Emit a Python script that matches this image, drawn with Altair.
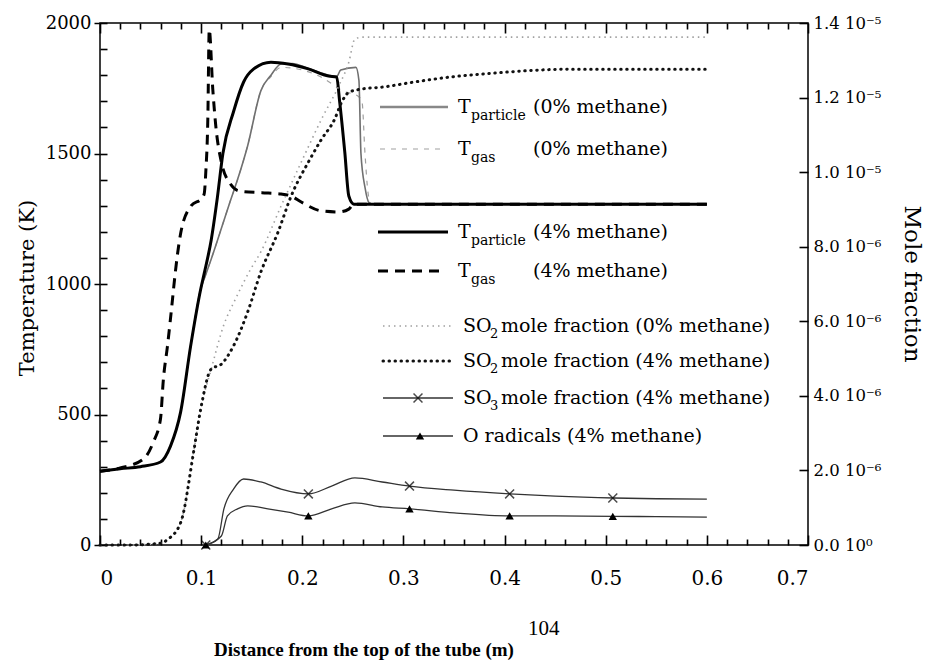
import altair as alt
import pandas as pd

# ---------------- data ----------------
# Temperatures (K), left axis
x_tp4 = [0, 0.02, 0.04, 0.0598, 0.0697, 0.0797, 0.0896, 0.0996, 0.103, 0.110, 0.116, 0.1215,
         0.132, 0.142, 0.152, 0.169, 0.186, 0.206, 0.226, 0.234, 0.237, 0.242, 0.246, 0.251, 0.4, 0.6]
t_tp4 = [283, 292, 300, 318, 379, 509, 762, 981, 1040, 1170, 1330, 1500,
         1660, 1774, 1824, 1850, 1843, 1824, 1797, 1793, 1697, 1506, 1337, 1306, 1306, 1306]

x_tg4 = [0, 0.02, 0.0428, 0.0528, 0.0598, 0.0627, 0.0667, 0.0717, 0.073, 0.08, 0.09, 0.101, 0.103,
         0.1046, 0.1066, 0.108, 0.1115, 0.1145, 0.12, 0.129, 0.138, 0.16, 0.179, 0.189, 0.199,
         0.219, 0.236, 0.246, 0.251, 0.4, 0.6]
t_tg4 = [283, 295, 329, 395, 483, 636, 762, 942, 992, 1199, 1299, 1330, 1345,
         1429, 1632, 1975, 1747, 1605, 1467, 1383, 1356, 1350, 1345, 1337, 1314,
         1280, 1276, 1287, 1306, 1306, 1306]

x_tp0 = [0, 0.02, 0.04, 0.0598, 0.0697, 0.0797, 0.0896, 0.0996, 0.104, 0.110, 0.113, 0.121, 0.129,
         0.136, 0.146, 0.159, 0.169, 0.179, 0.19, 0.206, 0.226, 0.234, 0.238, 0.253, 0.256, 0.258,
         0.262, 0.266, 0.27, 0.4, 0.6]
t_tp0 = [283, 292, 300, 318, 379, 509, 762, 981, 1030, 1096, 1130, 1225, 1320,
         1400, 1530, 1740, 1800, 1843, 1845, 1826, 1800, 1795, 1820, 1830, 1780, 1500,
         1370, 1312, 1306, 1306, 1306]

x_tg0 = [0, 0.02, 0.04, 0.0598, 0.0697, 0.0797, 0.0896, 0.0996, 0.104, 0.110, 0.113, 0.121, 0.129,
         0.136, 0.146, 0.159, 0.169, 0.179, 0.2, 0.22, 0.24, 0.255, 0.259, 0.262, 0.265, 0.268, 0.4, 0.6]
t_tg0 = [283, 292, 300, 318, 379, 509, 762, 981, 1030, 1096, 1130, 1225, 1320,
         1400, 1530, 1740, 1795, 1830, 1820, 1790, 1740, 1720, 1700, 1500, 1350, 1306, 1306, 1306]

# Mole fractions (units of 1e-6), right axis
x_so2_4 = [0, 0.03, 0.06, 0.067, 0.080, 0.093, 0.0996, 0.110, 0.120, 0.132, 0.146, 0.159, 0.176,
           0.189, 0.206, 0.219, 0.232, 0.239, 0.246, 0.259, 0.279, 0.309, 0.346, 0.378, 0.465, 0.6]
m_so2_4 = [0, 0, 0.05, 0.15, 0.62, 2.57, 3.65, 4.72, 4.85, 5.34, 6.25, 7.32, 8.39,
           9.36, 10.27, 10.88, 11.42, 11.88, 12.14, 12.23, 12.28, 12.41, 12.55, 12.63, 12.76, 12.76]

x_so2_0 = [0, 0.03, 0.06, 0.067, 0.080, 0.093, 0.0996, 0.110, 0.122, 0.134, 0.149, 0.159, 0.179,
           0.199, 0.219, 0.236, 0.246, 0.252, 0.259, 0.6]
m_so2_0 = [0, 0, 0.05, 0.15, 0.62, 2.57, 3.65, 4.72, 5.87, 6.60, 7.40, 7.86, 9.09,
           10.27, 11.42, 12.31, 12.95, 13.57, 13.62, 13.62]

x_so3 = [0.1046, 0.1165, 0.1225, 0.132, 0.142, 0.159, 0.179, 0.206, 0.229, 0.252, 0.279, 0.306,
         0.35, 0.405, 0.45, 0.508, 0.55, 0.6]
m_so3 = [0, 0.16, 0.97, 1.50, 1.77, 1.69, 1.50, 1.37, 1.58, 1.80, 1.69, 1.58,
         1.47, 1.37, 1.31, 1.26, 1.24, 1.23]

x_o = [0.1046, 0.12, 0.126, 0.136, 0.146, 0.166, 0.186, 0.206, 0.229, 0.252, 0.279, 0.306,
       0.35, 0.405, 0.45, 0.508, 0.55, 0.6]
m_o = [0, 0.24, 0.78, 0.97, 1.05, 0.97, 0.88, 0.78, 0.97, 1.13, 1.02, 0.97,
       0.86, 0.78, 0.78, 0.77, 0.76, 0.75]

x_so3_mark = [0.1046, 0.206, 0.306, 0.405, 0.507]
m_so3_mark = [0, 1.37, 1.58, 1.37, 1.26]
x_o_mark = [0.1046, 0.206, 0.306, 0.405, 0.507]
m_o_mark = [0, 0.78, 0.97, 0.78, 0.77]

# Axis tick values (labels only on the majors)
x_ticks = [0, 0.02, 0.04, 0.06, 0.08, 0.1, 0.12, 0.14, 0.16, 0.18, 0.2, 0.22, 0.24, 0.26, 0.28,
           0.3, 0.32, 0.34, 0.36, 0.38, 0.4, 0.42, 0.44, 0.46, 0.48, 0.5, 0.52, 0.54, 0.56, 0.58,
           0.6, 0.62, 0.64, 0.66, 0.68, 0.7]
t_ticks = [0, 100, 200, 300, 400, 500, 600, 700, 800, 900, 1000, 1100, 1200, 1300, 1400, 1500,
           1600, 1700, 1800, 1900, 2000]
m_ticks = [0, 2, 4, 6, 8, 10, 12, 14]

# ---------------- chart ----------------
SERIF = "DejaVu Serif"
W, H = 708, 522
XMAX, TMAX, MMAX = 0.7, 2000, 14
dummy = pd.DataFrame({"d": [0]})

X_MAJOR = "abs(datum.value * 10 - round(datum.value * 10)) < 0.001"
T_MAJOR = "datum.value % 500 == 0"

X = alt.X("x:Q", scale=alt.Scale(domain=[0, XMAX], nice=False, zero=False),
          axis=alt.Axis(values=x_ticks, ticks=False, domain=False, title=None,
                        labelExpr=f"{X_MAJOR} ? (datum.value == 0 ? '0' : format(datum.value, '.1f')) : ''",
                        labelFont=SERIF, labelFontSize=20, labelPadding=23, labelColor="black",
                        labelOverlap=False,
                        grid=True, gridColor="#000000", gridOpacity=1, gridWidth=1.6,
                        gridDash={"condition": {"test": X_MAJOR, "value": [10, H - 20, 10, 40]},
                                  "value": [6, H - 12, 6, 40]}))
YT = alt.Y("y:Q", scale=alt.Scale(domain=[0, TMAX], nice=False),
           axis=alt.Axis(values=t_ticks, ticks=True, tickSize=6, tickWidth=1.5, tickColor="black",
                         tickOpacity={"condition": {"test": T_MAJOR, "value": 1}, "value": 0},
                         labelExpr=f"{T_MAJOR} ? format(datum.value, 'd') : ''",
                         domain=False, title=None, labelFont=SERIF, labelOverlap=False,
                         labelFontSize=18, labelPadding=3, labelColor="black",
                         grid=True, gridColor="#000000", gridOpacity=1, gridWidth=1.6,
                         gridDash=[7, W + 50]))
YM = alt.Y("y:Q", scale=alt.Scale(domain=[0, MMAX], nice=False),
           axis=alt.Axis(orient="right", values=m_ticks, ticks=False, domain=False,
                         title=None, labelFont=SERIF, labelFontSize=16.5, labelPadding=5,
                         labelColor="black",
                         grid=True, gridColor="#000000", gridOpacity=1, gridWidth=1.6,
                         gridDash=[9, W + 50],
                         labelExpr="datum.value == 0 ? '0.0 10⁰' : (datum.value < 10 ? format(datum.value, '.1f') + ' 10⁻⁶' : format(datum.value / 10, '.1f') + ' 10⁻⁵')"))


def line(xs, ys, Y, **style):
    df = pd.DataFrame({"x": xs, "y": ys})
    return alt.Chart(df).mark_line(interpolate="monotone", **style).encode(x=X, y=Y)


def ltext(txt, px, py, size=19, **kw):
    return alt.Chart(dummy).mark_text(text=txt, font=SERIF, fontSize=size, align="left",
                                      baseline="middle", color="black", **kw).encode(
        x=alt.value(px), y=alt.value(py))


def lrule(x0, x1, py, **style):
    return alt.Chart(dummy).mark_rule(**style).encode(x=alt.value(x0), x2=alt.value(x1), y=alt.value(py))


S_TP4 = dict(color="black", strokeWidth=3)
S_TG4 = dict(color="black", strokeWidth=3, strokeDash=[10, 7])
S_TP0 = dict(color="#707070", strokeWidth=1.6)
S_TG0 = dict(color="#a0a0a0", strokeWidth=1.2, strokeDash=[5, 6])
S_S20 = dict(color="#a0a0a0", strokeWidth=1.6, strokeDash=[1.5, 4])
S_S24 = dict(color="#111111", strokeWidth=3, strokeDash=[0.5, 5.5], strokeCap="round")
S_S3 = dict(color="#333333", strokeWidth=1.3)

# legend layout (plot coordinates)
rows = [84, 126, 209, 248, 303, 338, 375, 413]
legend = [
    lrule(280, 348, rows[0], color="#888888", strokeWidth=2.5),
    ltext("T", 358, rows[0]), ltext("particle", 371, rows[0] + 9, size=14), ltext("(0% methane)", 433, rows[0]),
    lrule(280, 342, rows[1], **S_TG0),
    ltext("T", 358, rows[1]), ltext("gas", 371, rows[1] + 9, size=14), ltext("(0% methane)", 433, rows[1]),
    lrule(278, 348, rows[2], **S_TP4),
    ltext("T", 358, rows[2]), ltext("particle", 371, rows[2] + 9, size=14), ltext("(4% methane)", 433, rows[2]),
    lrule(278, 340, rows[3], **S_TG4),
    ltext("T", 358, rows[3]), ltext("gas", 371, rows[3] + 9, size=14), ltext("(4% methane)", 433, rows[3]),
    lrule(283, 351, rows[4], **S_S20),
    ltext("SO", 363, rows[4]), ltext("2", 390, rows[4] + 8, size=13), ltext("mole fraction (0% methane)", 401, rows[4]),
    lrule(283, 351, rows[5], **S_S24),
    ltext("SO", 363, rows[5]), ltext("2", 390, rows[5] + 8, size=13), ltext("mole fraction (4% methane)", 401, rows[5]),
    lrule(283, 353, rows[6], **S_S3),
    alt.Chart(dummy).mark_point(shape="M-1,-1L1,1M-1,1L1,-1", filled=False, size=80, strokeWidth=1.5,
                                color="black").encode(x=alt.value(318), y=alt.value(rows[6])),
    ltext("SO", 363, rows[6]), ltext("3", 390, rows[6] + 8, size=13), ltext("mole fraction (4% methane)", 401, rows[6]),
    lrule(283, 353, rows[7], **S_S3),
    alt.Chart(dummy).mark_point(shape="triangle-up", filled=True, size=70, color="black", opacity=1).encode(
        x=alt.value(320), y=alt.value(rows[7])),
    ltext("O radicals (4% methane)", 363, rows[7]),
]

titles = [
    alt.Chart(dummy).mark_text(text="Temperature (K)", angle=270, font=SERIF, fontSize=21,
                               align="center", baseline="middle", color="black").encode(
        x=alt.value(-72), y=alt.value(265)),
    alt.Chart(dummy).mark_text(text="Mole fraction", angle=90, font=SERIF, fontSize=23,
                               align="center", baseline="middle", color="black").encode(
        x=alt.value(812), y=alt.value(261)),
    alt.Chart(dummy).mark_text(text="Distance from the top of the tube (m)", font="Liberation Serif",
                               fontSize=19, fontWeight="bold", align="center", baseline="alphabetic",
                               color="black").encode(x=alt.value(264), y=alt.value(633)),
    alt.Chart(dummy).mark_text(text="104", font="Liberation Serif", fontSize=21, align="left",
                               baseline="alphabetic", color="black").encode(x=alt.value(428), y=alt.value(612)),
]

temp_layer = alt.layer(
    line(x_tg0, t_tg0, YT, **S_TG0),
    line(x_tp0, t_tp0, YT, **S_TP0),
    line(x_tg4, t_tg4, YT, **S_TG4),
    line(x_tp4, t_tp4, YT, **S_TP4),
    *legend, *titles,
)

mf_layer = alt.layer(
    line(x_so2_0, m_so2_0, YM, **S_S20),
    line(x_so2_4, m_so2_4, YM, **S_S24),
    line(x_so3, m_so3, YM, **S_S3),
    line(x_o, m_o, YM, **S_S3),
    alt.Chart(pd.DataFrame({"x": x_so3_mark, "y": m_so3_mark})).mark_point(
        shape="M-1,-1L1,1M-1,1L1,-1", filled=False, size=80, strokeWidth=1.5, color="black").encode(x=X, y=YM),
    alt.Chart(pd.DataFrame({"x": x_o_mark, "y": m_o_mark})).mark_point(
        shape="triangle-up", filled=True, size=70, color="black", opacity=1).encode(x=X, y=YM),
)

chart = alt.layer(temp_layer, mf_layer).resolve_scale(y="independent").properties(
    width=W, height=H,
    autosize=alt.AutoSizeParams(type="none"),
    padding={"left": 100, "top": 23, "right": 119, "bottom": 115},
    background="white",
).configure_view(stroke="black", strokeWidth=1.5)

chart.save("out.html", embed_options={"renderer": "svg", "actions": False})
